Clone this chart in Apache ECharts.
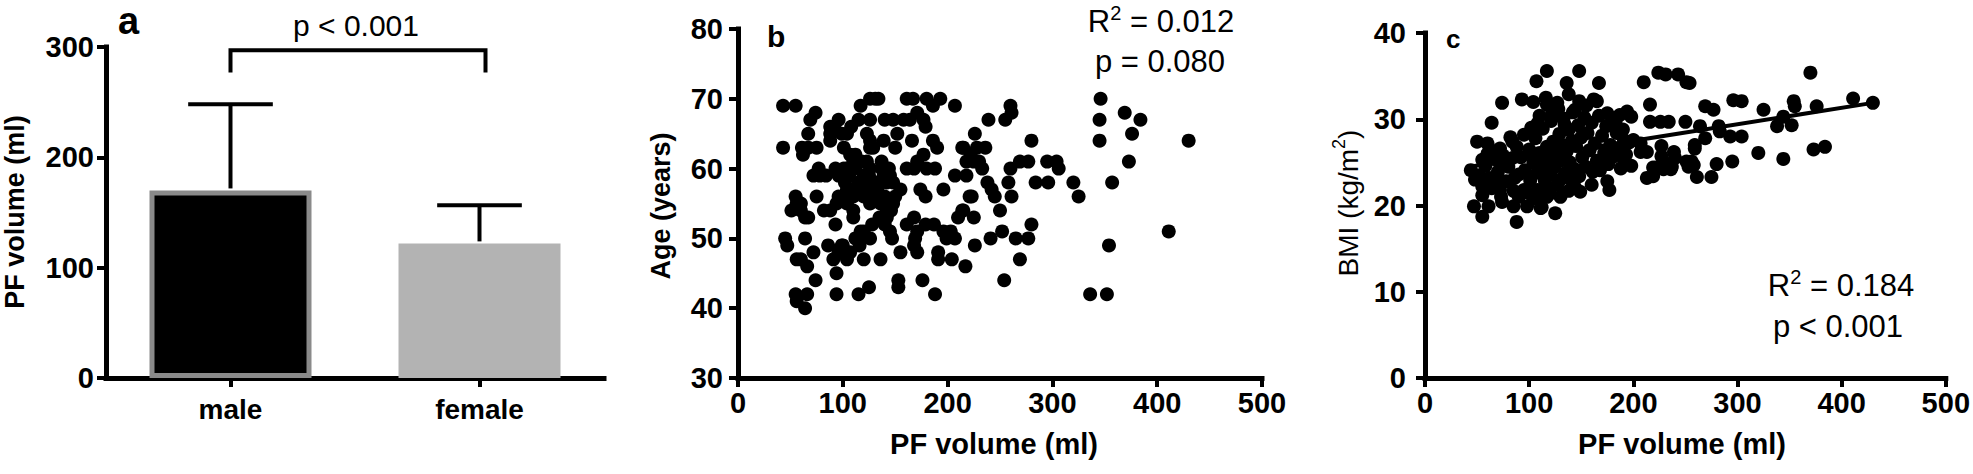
<!DOCTYPE html>
<html>
<head>
<meta charset="utf-8">
<script src="https://cdn.jsdelivr.net/npm/echarts@6/dist/echarts.min.js"></script>
<style>
html,body{margin:0;padding:0;background:#fff;}
#chart{width:1973px;height:474px;}
</style>
</head>
<body>
<div id="chart"></div>
<script>
// ---------- Panel a: bar chart ----------
const aCategories = ['male', 'female'];
const aMeans = [170, 122];
const aUpper = [248, 156.5];
const aBracket = [0, 1, 297, 277]; // from category, to category, top value, bottom value

// ---------- Panel b: PF volume vs Age ----------
const bPoints = [
[43,69],[55,69],[117,69],[126,70],[131,70],[134,70],[161,70],[167,70],[180,70],[193,70],[186,69],[207,69],
[74,68],[69,67],[96,67],[92,66],[115,67],[126,67],[140,67],[148,67],[158,67],[164,67],[171,68],[177,67],
[88,66],[99,65],[67,65],[152,65],[123,65],[126,64],[88,64],[104,65],[43,63],[61,63],[67,63],[75,63],
[62,62],[101,63],[107,62],[126,63],[129,63],[139,64],[150,63],[166,64],[186,64],[190,63],[214,63],
[171,61],[177,62],[161,60],[168,60],[180,60],[188,60],[218,61],[207,59],[218,59],[77,60],[78,59],[72,59],
[93,60],[96,59],[101,60],[107,60],[112,60],[123,61],[126,60],[137,61],[144,60],[123,58],[132,58],[142,58],
[148,58],[102,58],[109,57],[155,57],[174,57],[179,56],[196,57],[55,56],[56,55],[75,56],[221,56],
[96,56],[104,56],[110,56],[120,56],[126,55],[132,56],[140,56],[148,55],
[51,54],[59,55],[60,54],[67,53],[82,54],[88,54],[94,55],[104,55],[110,54],[93,52],[110,53],[117,51],
[117,50],[126,50],[128,52],[136,55],[142,54],[147,55],[142,53],[145,51],[147,50],[161,52],[168,53],[171,51],
[179,52],[187,52],[169,50],[168,49],[171,48],[196,51],[199,50],[203,51],[207,50],[210,53],[214,54],
[45,50],[47,49],[64,50],[72,48],[86,49],[99,49],[107,48],[104,47],[99,48],[91,47],[120,47],[136,47],
[155,48],[191,48],[191,47],[204,47],[217,46],[56,47],[66,46],[74,44],[94,45],[55,42],[66,42],[56,41],
[64,40],[94,42],[115,42],[125,43],[153,44],[153,43],[176,44],[188,42],
[260,69],[261,68],[255,67],[239,67],[226,65],[280,64],[346,70],[345,67],[345,64],[369,68],[384,67],[376,65],
[430,64],[373,61],[357,58],[320,58],[325,56],[284,58],[296,58],[269,61],[277,61],[295,61],[304,61],[306,60],
[260,60],[258,58],[261,56],[223,56],[215,63],[222,62],[228,63],[236,63],[225,61],[230,61],[233,60],[238,58],
[242,57],[245,56],[250,54],[225,53],[215,54],[241,50],[252,51],[265,50],[277,50],[280,52],[226,49],[269,47],
[254,44],[354,49],[411,51],[336,42],[352,42],
[88,65],[108,66],[179,66],[145,59],[139,59],[133,57],[137,60],[150,56],[146,54],[140,52],[135,53],
[120,51],[112,50],[116,49],[96,48],[100,49],[104,57],[84,59],[64,53],[60,47],[60,55],
[112,62],[118,61],[106,59],[115,58],[120,59],[110,61],[128,57],[118,57],[104,60],[125,59]
];

// ---------- Panel c: PF volume vs BMI ----------
const cPoints = [
[117,35.6],[148,35.6],[107,34.4],[136,34.2],[167,34.2],[210,34.3],[224,35.4],[231,35.2],[243,35.2],[251,34.3],
[254,34.2],[370,35.4],
[216,31.7],[216,29.7],[226,29.7],[234,29.7],[250,29.7],[269,31.5],[277,31.1],[296,32.2],[304,32.1],[264,29.2],
[282,29.2],[283,28.6],[269,27.8],[325,31.1],[344,30.3],[338,29.2],[352,29.3],[354,32.1],[355,31.5],[376,31.5],
[411,32.4],[430,31.9],[293,28],[304,28],[320,26.1],[344,25.4],[373,26.5],[384,26.8],[295,25.1],[280,24.8],
[261,23.3],[275,23.3],[259,26.6],[259,27],[251,25.1],[256,25.1],[239,26.2],[240,25.5],[237,24.5],[227,26.9],
[227,25.7],[229,25],[222,24.4],[229,24.2],[236,24.2],[213,26.2],[207,26.2],[219,24.4],[213,23.2],[219,23.4],
[258,24.7],[253,24.5],[207,27.2],
[74,31.9],[93,32.3],[64,29.6],[108,29.5],[117,31.7],[127,31.9],[122,30.7],[138,32.9],[148,32.1],[144,31.1],
[162,32.3],[175,30.7],[187,30.5],[194,30.9],[198,30.3],[50,27.4],[60,27.2],[72,26.6],[84,27.4],[44,24.1],
[55,25.3],[55,22.2],[64,22],[72,21.8],[85,21.7],[95,21.8],[108,21.8],[117,22.2],[130,23],[140,23],[149,21.6],
[175,22.8],[177,21.8],[191,25.3],[181,29.5],[184,28.4],[191,27.6],[200,27.6],
[47,19.9],[61,19.9],[55,18.7],[74,20.4],[88,18.1],[125,19.1],[85,19.9],[98,19.9],[111,19.7],[55,21.2],
[73,21],[90,21],[104,20.8],[117,21],[66,26.3],
[80,24.5],[86,23.2],[92,25.6],[96,24.1],[100,26.5],[101,22.9],[104,25.0],[106,27.8],[108,23.8],[110,26.1],
[112,24.6],[113,28.9],[115,22.9],[117,26.8],[118,25.3],[120,23.6],[121,29.8],[123,27.4],[124,24.4],[126,26.0],
[127,22.4],[129,28.3],[130,25.2],[132,27.0],[133,30.1],[135,23.8],[136,26.3],[138,28.8],[139,25.0],[141,27.5],
[142,30.8],[144,24.2],[145,26.9],[147,29.3],[148,23.4],[150,27.9],[151,25.6],[153,30.2],[154,24.5],[156,28.4],
[158,26.4],[160,29.6],[161,23.9],[163,27.2],[165,25.2],[167,30.4],[168,24.1],[170,28.1],[172,26.1],[174,29.2],
[176,24.8],[178,27.0],[180,25.6],[183,29.8],[186,26.6],[188,24.3],[190,28.8],[193,25.9],[196,27.3],[198,24.6],
[88,26.8],[84,25.5],[78,22.8],[70,23.9],[66,25.4],[62,23.2],[58,24.6],[52,23.5],[48,23.0],[68,22.6],
[75,25.8],[95,28.2],[102,29.0],[110,30.4],[116,32.5],[128,31.2],[134,29.4],[155,31.6],[108,20.9],[98,21.5],
[120,21.4],[138,21.7],[160,22.4],[144,22.1],[130,21.0],[112,19.8],[90,23.6],[82,27.9],[72,24.9],[60,26.0],
[104,32.0],[165,32.1]
];
const cFit = [[43, 24.5], [430, 31.9]];

// ---------- texts ----------
const panelLetters = ['a', 'b', 'c'];
const statsB = ['0.012', 'p = 0.080'];
const statsC = ['0.184', 'p < 0.001'];
const sigText = 'p < 0.001';
const axisTitles = { aY: 'PF volume (ml)', bY: 'Age (years)', cY: 'BMI (kg/m', x: 'PF volume (ml)' };

const FONT = "'Liberation Sans', Arial, Helvetica, sans-serif";
const AXW = 5;

function tickLabel(margin) {
  return { color: '#000', fontFamily: FONT, fontWeight: 'bold', fontSize: 29, margin: margin };
}
const axLine = { show: true, onZero: false, lineStyle: { color: '#000', width: AXW, cap: 'square' } };
const axTick = { show: true, length: 9, lineStyle: { color: '#000', width: 4 } };

function r2Text(val) {
  return {
    text: '{r|R}{s|2}{r| = ' + val + '}',
    rich: {
      r: { fontFamily: FONT, fontSize: 31, color: '#000', lineHeight: 34, verticalAlign: 'bottom' },
      s: { fontFamily: FONT, fontSize: 20, color: '#000', lineHeight: 34, verticalAlign: 'top' }
    },
    align: 'center', verticalAlign: 'middle'
  };
}

const chart = echarts.init(document.getElementById('chart'), null, { renderer: 'svg' });

const option = {
  animation: false,
  backgroundColor: '#fff',
  grid: [
    { left: 106, top: 47, width: 498, height: 331 },
    { left: 738, top: 29, width: 524, height: 349 },
    { left: 1425, top: 33, width: 521, height: 345 }
  ],
  xAxis: [
    { gridIndex: 0, type: 'category', data: aCategories, axisLine: axLine,
      axisTick: Object.assign({ alignWithLabel: true }, axTick),
      axisLabel: Object.assign(tickLabel(17), { fontSize: 28 }), splitLine: { show: false } },
    { gridIndex: 1, type: 'value', min: 0, max: 500, interval: 100, axisLine: axLine, axisTick: axTick,
      axisLabel: tickLabel(10), splitLine: { show: false } },
    { gridIndex: 2, type: 'value', min: 0, max: 500, interval: 100, axisLine: axLine, axisTick: axTick,
      axisLabel: tickLabel(10), splitLine: { show: false } }
  ],
  yAxis: [
    { gridIndex: 0, type: 'value', min: 0, max: 300, interval: 100, axisLine: axLine, axisTick: axTick,
      axisLabel: tickLabel(12), splitLine: { show: false } },
    { gridIndex: 1, type: 'value', min: 30, max: 80, interval: 10, axisLine: axLine, axisTick: axTick,
      axisLabel: tickLabel(15), splitLine: { show: false } },
    { gridIndex: 2, type: 'value', min: 0, max: 40, interval: 10, axisLine: axLine, axisTick: axTick,
      axisLabel: tickLabel(19), splitLine: { show: false } }
  ],
  series: [
    {
      type: 'bar', xAxisIndex: 0, yAxisIndex: 0, barWidth: 162, z: 2,
      data: aMeans.map((v, i) => ({
        value: v,
        itemStyle: i === 0
          ? { color: '#000', borderColor: '#8a8a8a', borderWidth: 5 }
          : { color: '#b3b3b3', borderWidth: 0 }
      }))
    },
    {
      type: 'custom', xAxisIndex: 0, yAxisIndex: 0, z: 3,
      data: aCategories.map((c, i) => [i, aMeans[i], aUpper[i]]),
      renderItem: function (params, api) {
        const base = api.coord([api.value(0), api.value(1)]);
        const top = api.coord([api.value(0), api.value(2)]);
        const half = api.size([1, 0])[0] * 0.17;
        return {
          type: 'group',
          children: [
            { type: 'line', shape: { x1: base[0], y1: base[1] - 2, x2: top[0], y2: top[1] },
              style: { stroke: '#000', lineWidth: 4 } },
            { type: 'line', shape: { x1: top[0] - half, y1: top[1], x2: top[0] + half, y2: top[1] },
              style: { stroke: '#000', lineWidth: 4 } }
          ]
        };
      }
    },
    {
      type: 'custom', xAxisIndex: 0, yAxisIndex: 0, z: 3,
      data: [aBracket],
      renderItem: function (params, api) {
        const p1 = api.coord([api.value(0), api.value(3)]);
        const p2 = api.coord([api.value(0), api.value(2)]);
        const p3 = api.coord([api.value(1), api.value(2)]);
        const p4 = api.coord([api.value(1), api.value(3)]);
        return {
          type: 'polyline',
          shape: { points: [p1, p2, [p3[0] + 6, p3[1]], [p4[0] + 6, p4[1]]] },
          style: { stroke: '#000', lineWidth: 4, fill: null }
        };
      }
    },
    {
      type: 'scatter', xAxisIndex: 1, yAxisIndex: 1, symbol: 'circle', symbolSize: 14,
      itemStyle: { color: '#000', opacity: 1 }, data: bPoints
    },
    {
      type: 'scatter', xAxisIndex: 2, yAxisIndex: 2, symbol: 'circle', symbolSize: 14,
      itemStyle: { color: '#000', opacity: 1 }, data: cPoints
    },
    {
      type: 'line', xAxisIndex: 2, yAxisIndex: 2, data: cFit, symbol: 'none', z: 5,
      lineStyle: { color: '#000', width: 4 }
    }
  ],
  graphic: [
    { type: 'text', x: 118, y: 21, style: { text: panelLetters[0], fontFamily: FONT, fontWeight: 'bold', fontSize: 38, fill: '#000', align: 'left', verticalAlign: 'middle' } },
    { type: 'text', x: 356, y: 25, style: { text: sigText, fontFamily: FONT, fontSize: 30, fill: '#000', align: 'center', verticalAlign: 'middle' } },
    { type: 'text', x: 15, y: 212, rotation: Math.PI / 2, style: { text: axisTitles.aY, fontFamily: FONT, fontWeight: 'bold', fontSize: 27, fill: '#000', align: 'center', verticalAlign: 'middle' } },

    { type: 'text', x: 767, y: 36, style: { text: panelLetters[1], fontFamily: FONT, fontWeight: 'bold', fontSize: 30, fill: '#000', align: 'left', verticalAlign: 'middle' } },
    { type: 'text', x: 1161, y: 20, style: r2Text(statsB[0]) },
    { type: 'text', x: 1160, y: 61, style: { text: statsB[1], fontFamily: FONT, fontSize: 31, fill: '#000', align: 'center', verticalAlign: 'middle' } },
    { type: 'text', x: 661, y: 206, rotation: Math.PI / 2, style: { text: axisTitles.bY, fontFamily: FONT, fontWeight: 'bold', fontSize: 27, fill: '#000', align: 'center', verticalAlign: 'middle' } },
    { type: 'text', x: 994, y: 444, style: { text: axisTitles.x, fontFamily: FONT, fontWeight: 'bold', fontSize: 29, fill: '#000', align: 'center', verticalAlign: 'middle' } },

    { type: 'text', x: 1446, y: 39, style: { text: panelLetters[2], fontFamily: FONT, fontWeight: 'bold', fontSize: 26, fill: '#000', align: 'left', verticalAlign: 'middle' } },
    { type: 'text', x: 1841, y: 284, style: r2Text(statsC[0]) },
    { type: 'text', x: 1838, y: 326, style: { text: statsC[1], fontFamily: FONT, fontSize: 31, fill: '#000', align: 'center', verticalAlign: 'middle' } },
    { type: 'text', x: 1346, y: 203, rotation: Math.PI / 2, style: {
        text: '{r|' + axisTitles.cY + '}{s|2}{r|)}',
        rich: {
          r: { fontFamily: FONT, fontSize: 28, color: '#000', lineHeight: 32, verticalAlign: 'bottom' },
          s: { fontFamily: FONT, fontSize: 18, color: '#000', lineHeight: 32, verticalAlign: 'top' }
        },
        align: 'center', verticalAlign: 'middle' } },
    { type: 'text', x: 1682, y: 444, style: { text: axisTitles.x, fontFamily: FONT, fontWeight: 'bold', fontSize: 29, fill: '#000', align: 'center', verticalAlign: 'middle' } }
  ]
};
chart.setOption(option);
</script>
</body>
</html>
